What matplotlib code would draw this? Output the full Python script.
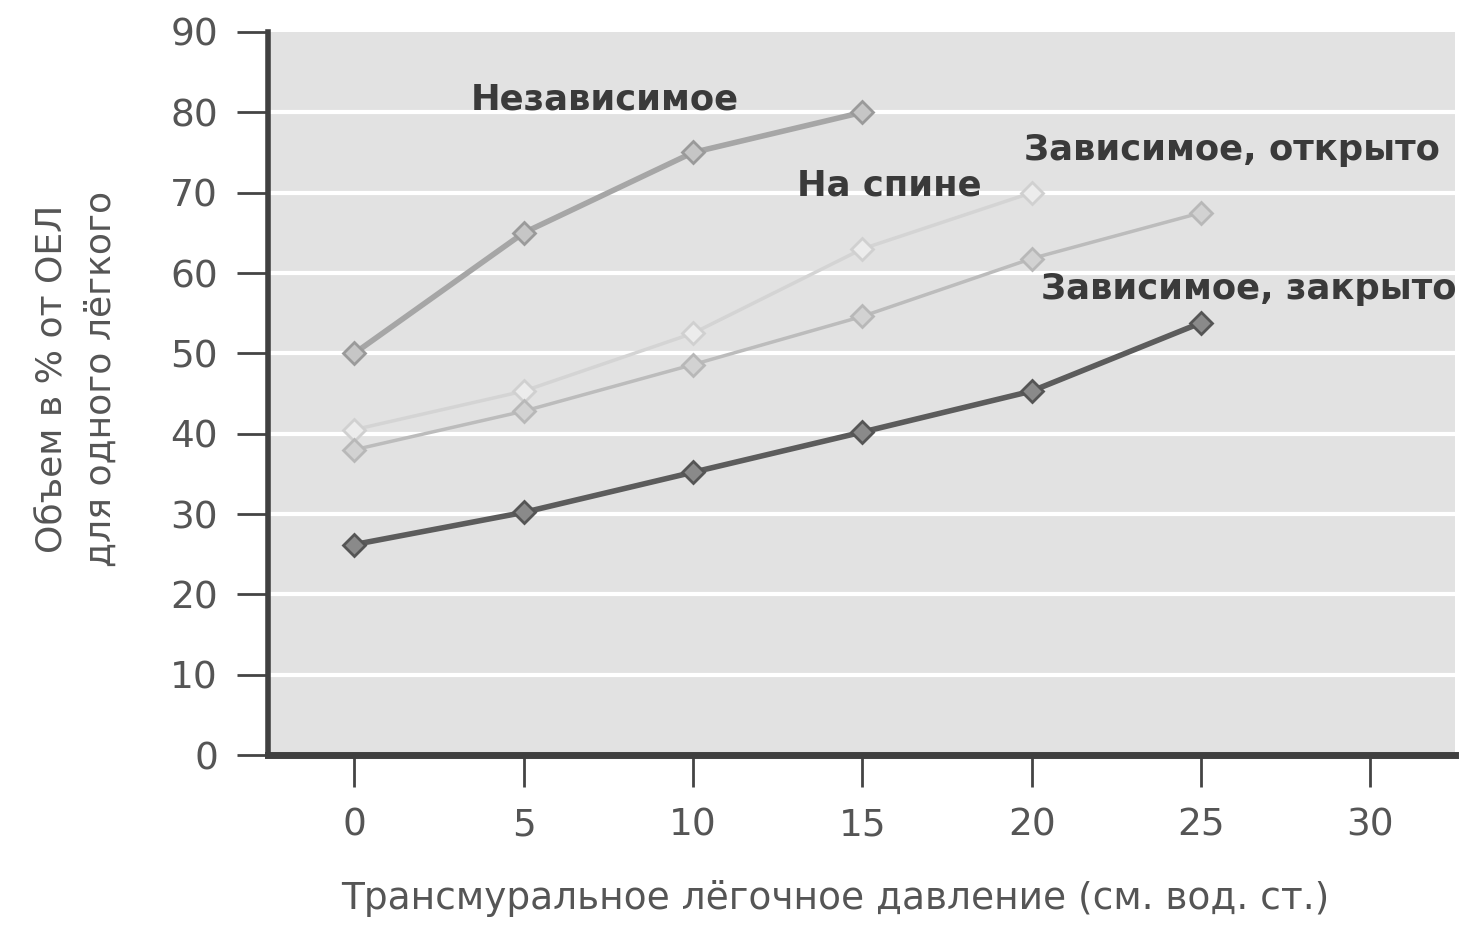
import matplotlib
matplotlib.use("Agg")
import matplotlib.pyplot as plt

# ---- data ----
x_indep = [0, 5, 10, 15]
y_indep = [50, 65, 75, 80]

x_supine = [0, 5, 10, 15, 20]
y_supine = [40.5, 45.3, 52.5, 63, 70]

x_open = [0, 5, 10, 15, 20, 25]
y_open = [38, 42.8, 48.6, 54.6, 61.8, 67.5]

x_closed = [0, 5, 10, 15, 20, 25]
y_closed = [26.2, 30.2, 35.2, 40.2, 45.3, 53.8]

labels = ["Независимое", "На спине", "Зависимое, открыто", "Зависимое, закрыто"]
label_pos = [(7.4, 81.6), (15.8, 70.9), (25.9, 75.3), (26.4, 58.0)]

x_ticks = [0, 5, 10, 15, 20, 25, 30]
y_ticks = [0, 10, 20, 30, 40, 50, 60, 70, 80, 90]

x_label = "Трансмуральное лёгочное давление (см. вод. ст.)"
y_label = "Объем в % от ОЕЛ\nдля одного лёгкого"

plt.rcParams['font.family'] = ['DejaVu Sans']

fig = plt.figure(figsize=(14.66, 9.27), dpi=100)
ax = fig.add_axes([0.1828, 0.1855, 0.8097, 0.780])
ax.set_facecolor("#e2e2e2")

ax.set_xlim(-2.55, 32.5)
ax.set_ylim(0, 90)

for yv in y_ticks[1:-1]:
    ax.axhline(yv, color="white", lw=3, zorder=1)

ax.plot(x_indep, y_indep, color="#a6a6a6", lw=4, marker="D", ms=11,
        mfc="#c6c6c6", mec="#9a9a9a", mew=2, zorder=3)
ax.plot(x_supine, y_supine, color="#d4d4d4", lw=2.5, marker="D", ms=11,
        mfc="#ececec", mec="#d0d0d0", mew=2, zorder=3)
ax.plot(x_open, y_open, color="#bcbcbc", lw=2.5, marker="D", ms=11,
        mfc="#d2d2d2", mec="#b8b8b8", mew=2, zorder=3)
ax.plot(x_closed, y_closed, color="#5c5c5c", lw=4, marker="D", ms=11,
        mfc="#8a8a8a", mec="#555555", mew=2, zorder=4)

for t, (tx, ty) in zip(labels, label_pos):
    ax.text(tx, ty, t, ha="center", va="center", fontsize=25.5,
            fontweight="bold", color="#3a3a3a", zorder=5)

for s in ["top", "right"]:
    ax.spines[s].set_visible(False)
ax.spines["left"].set_color("#404040")
ax.spines["left"].set_linewidth(4)
ax.spines["bottom"].set_color("#404040")
ax.spines["bottom"].set_linewidth(5)

ax.set_xticks(x_ticks)
ax.set_yticks(y_ticks)
ax.tick_params(axis="x", direction="out", length=23, width=2, color="#444444",
               labelsize=27, labelcolor="#555555", pad=15)
ax.tick_params(axis="y", direction="out", length=22, width=2, color="#444444",
               labelsize=27, labelcolor="#555555", pad=14)

ax.set_xlabel(x_label, fontsize=27, color="#555555")
ax.xaxis.set_label_coords(0.478, -0.173)
ax.set_ylabel(y_label, fontsize=26, color="#555555", linespacing=1.55)
ax.yaxis.set_label_coords(-0.127, 0.52)

fig.savefig("out.png", dpi=100)
